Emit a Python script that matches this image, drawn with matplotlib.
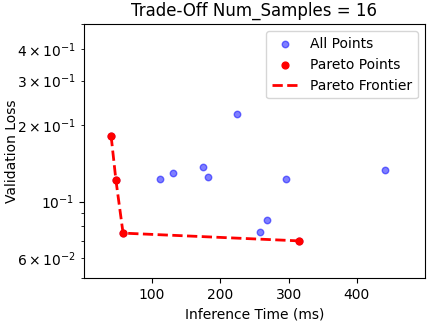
import matplotlib
matplotlib.use("Agg")
import matplotlib.pyplot as plt

# Werte
all_time = [40, 47, 57.5, 314.6, 111.7, 130.2, 175.1, 182.4, 223.9, 296.2, 441.1, 267.8, 258.1]
all_loss = [0.1816, 0.1218, 0.0751, 0.0700, 0.1229, 0.1297, 0.1374, 0.1254, 0.2215, 0.1229, 0.1329, 0.0845, 0.0762]

pareto_time = [40, 47, 57.5, 314.6]
pareto_loss = [0.1816, 0.1218, 0.0751, 0.0700]

fig = plt.figure(figsize=(4.32, 3.22), dpi=100)
ax = fig.add_axes([0.194, 0.137, 0.790, 0.787])

ax.scatter(all_time, all_loss, s=22, color="blue", alpha=0.5, label="All Points")
ax.scatter(pareto_time, pareto_loss, s=24, color="red", label="Pareto Points")
ax.plot(pareto_time, pareto_loss, color="red", linestyle="--", linewidth=2, label="Pareto Frontier")

ax.set_yscale("log")
ax.set_xlim(0, 500)
ax.set_ylim(0.05, 0.5)
ax.set_xticks([100, 200, 300, 400])

ax.set_title("Trade-Off Num_Samples = 16")
ax.set_xlabel("Inference Time (ms)")
ax.set_ylabel("Validation Loss")
ax.yaxis.set_label_coords(-0.19, 0.5)
ax.legend(loc="upper right")

fig.savefig("out.png", dpi=100)
